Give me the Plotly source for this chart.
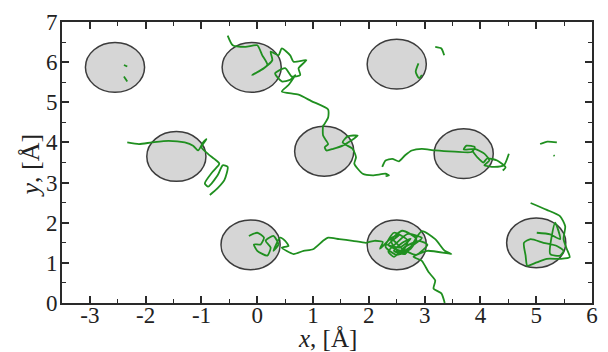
import plotly.graph_objects as go

# Lattice sites (centres of the grey discs), in Å
site_x = [-2.55, -0.10, 2.50, -1.45, 1.20, 3.70, -0.12, 2.50, 5.00]
site_y = [5.87, 5.87, 5.95, 3.65, 3.78, 3.72, 1.45, 1.45, 1.50]
site_rx = 0.53
site_ry = 0.62

# Trajectory pieces (x, y in Å)
top_x = [-0.53, -0.44, -0.21, 0.00, 0.09, 0.18, -0.09, 0.12, 0.27, 0.24, 0.38, 0.44,
         0.59, 0.65, 0.88, 0.74, 0.77, 0.62, 0.50, 0.32, 0.44, 0.59, 0.68, 0.56, 0.44,
         0.74, 0.97, 1.27, 1.27, 1.20, 1.18, 1.18, 1.27, 1.21, 1.24, 1.36, 1.53, 1.80,
         1.62, 1.53, 1.71, 1.77, 1.74, 1.89, 2.07, 2.30, 2.36, 2.30]
top_y = [6.66, 6.42, 6.38, 6.42, 6.17, 5.93, 5.68, 5.85, 6.05, 6.26, 6.17, 6.34,
         6.17, 6.01, 6.05, 5.85, 5.68, 5.64, 5.85, 5.72, 5.52, 5.56, 5.68, 5.43, 5.27,
         5.19, 5.03, 4.82, 4.62, 4.45, 4.41, 4.17, 3.96, 3.88, 3.80, 3.84, 3.92, 4.17,
         4.15, 4.00, 3.84, 3.63, 3.47, 3.22, 3.18, 3.22, 3.18, 3.16]

mid_x = [2.24, 2.30, 2.42, 2.54, 2.65, 2.77, 2.95, 3.19, 3.54, 3.84, 3.90, 3.75, 3.70,
         3.90, 4.07, 4.16, 4.07, 4.25, 4.42, 4.51]
mid_y = [3.39, 3.55, 3.59, 3.53, 3.68, 3.80, 3.84, 3.80, 3.77, 3.76, 3.88, 3.92, 3.82,
         3.84, 3.72, 3.55, 3.43, 3.39, 3.43, 3.72]
mid2_x = [3.85, 3.95, 4.05, 4.12, 4.30, 4.45, 4.40]
mid2_y = [3.80, 3.62, 3.50, 3.60, 3.55, 3.38, 3.30]

left_x = [-2.33, -2.12, -1.89, -1.59, -1.30, -1.15, -1.06, -0.97, -0.91, -1.00, -0.88,
          -0.77, -0.68, -0.80, -0.94, -0.88, -0.71, -0.62, -0.53, -0.59, -0.71, -0.85]
left_y = [4.00, 3.96, 4.00, 4.04, 4.00, 3.92, 3.80, 4.00, 4.08, 3.88, 3.71,
          3.59, 3.47, 3.27, 2.98, 2.90, 3.18, 3.43, 3.39, 3.06, 2.86, 2.69]

bot_x = [-0.15, 0.00, 0.12, 0.06, -0.06, 0.00, 0.18, 0.24, 0.15, 0.29, 0.38, 0.29,
         0.41, 0.50, 0.56, 0.44, 0.65, 0.83, 1.00, 1.18, 1.27, 1.47, 1.71, 1.95, 2.10,
         2.25, 2.20, 2.40, 2.55, 2.35, 2.60, 2.70, 2.45, 2.30, 2.50, 2.75, 2.85, 2.60,
         2.40, 2.55, 2.80, 2.95, 2.70, 2.50, 2.35, 2.45, 2.65, 2.90, 3.05, 2.85, 2.60,
         2.40, 2.30, 2.55, 2.75, 2.60, 2.45, 2.65, 2.95, 3.19, 3.36, 3.48, 3.05, 2.80,
         2.95, 3.07, 3.19, 3.16, 3.30, 3.36]
bot_y = [1.67, 1.75, 1.63, 1.46, 1.46, 1.30, 1.18, 1.38, 1.55, 1.67, 1.46, 1.30,
         1.63, 1.55, 1.42, 1.38, 1.22, 1.30, 1.34, 1.55, 1.63, 1.59, 1.55, 1.50, 1.55,
         1.52, 1.35, 1.62, 1.70, 1.45, 1.30, 1.55, 1.75, 1.40, 1.20, 1.35, 1.60, 1.80,
         1.55, 1.25, 1.45, 1.62, 1.72, 1.50, 1.28, 1.15, 1.40, 1.55, 1.45, 1.20, 1.35,
         1.60, 1.48, 1.38, 1.60, 1.50, 1.30, 1.22, 1.79, 1.59, 1.30, 1.22, 1.30, 1.15,
         1.05, 0.77, 0.56, 0.36, 0.24, 0.00]

right_x = [4.90, 5.19, 5.43, 5.52, 5.49, 5.55, 5.60, 5.43, 5.19, 5.01, 4.84, 4.81, 4.78,
           4.90, 5.13, 5.37, 5.49, 5.43, 5.25, 5.34, 5.43, 5.25, 5.01]
right_y = [2.49, 2.32, 2.16, 1.91, 1.59, 1.34, 1.14, 1.10, 1.10, 1.01, 0.93, 1.18, 1.50,
           1.59, 1.50, 1.42, 1.30, 1.18, 1.22, 2.00, 1.59, 1.71, 1.75]

# Short isolated fragments
frag_xs = [[-2.39, -2.33], [-2.39, -2.33], [2.89, 2.84, 2.90, 2.95], [3.19, 3.30, 3.35],
           [5.07, 5.20, 5.37], [5.31, 5.33]]
frag_ys = [[5.93, 5.89], [5.64, 5.52], [5.97, 5.76, 5.60, 5.68], [6.38, 6.34, 6.17],
           [3.96, 4.02, 4.00], [3.68, 3.66]]

x_ticks = [-3, -2, -1, 0, 1, 2, 3, 4, 5, 6]
y_ticks = [0, 1, 2, 3, 4, 5, 6, 7]

serif = "Liberation Serif"
green = "#1f8f1f"
fig = go.Figure()

paths = [(top_x, top_y), (mid_x, mid_y), (mid2_x, mid2_y), (left_x, left_y),
         (bot_x, bot_y), (right_x, right_y)] + list(zip(frag_xs, frag_ys))
for px, py in paths:
    fig.add_trace(go.Scatter(x=px, y=py, mode="lines", showlegend=False,
                             line=dict(color=green, width=1.8, shape="spline",
                                       smoothing=0.6), hoverinfo="skip"))

for cx, cy in zip(site_x, site_y):
    fig.add_shape(type="circle", xref="x", yref="y", layer="below",
                  x0=cx - site_rx, x1=cx + site_rx, y0=cy - site_ry, y1=cy + site_ry,
                  fillcolor="#d6d6d6", line=dict(color="#3c3c3c", width=1.5))

tick_font = dict(family=serif, size=23, color="#222")
axis_common = dict(showgrid=False, zeroline=False, showline=True, mirror="ticks",
                   linecolor="#2a2a2a", linewidth=2, ticks="inside", ticklen=7,
                   tickwidth=1.6, tickcolor="#2a2a2a",
                   minor=dict(ticks="inside", ticklen=4, tickwidth=1.3,
                              tickcolor="#2a2a2a", dtick=0.5, showgrid=False))

fig.update_xaxes(range=[-3.5, 6], tickvals=x_ticks, ticktext=[str(v) for v in x_ticks],
                 tickfont=tick_font, ticklabelstandoff=-10, **axis_common)
fig.update_yaxes(range=[0, 7], tickvals=y_ticks, ticktext=[str(v) for v in y_ticks],
                 tickfont=tick_font, ticklabelstandoff=-2, **axis_common)

fig.add_annotation(text="<i>x</i>, [Å]", xref="paper", yref="paper", x=0.5, y=-0.128,
                   showarrow=False, yanchor="middle",
                   font=dict(family=serif, size=25, color="#222"))
fig.add_annotation(text="<i>y</i>, [Å]", xref="paper", yref="paper", x=-0.06, y=0.49,
                   showarrow=False, textangle=-90, xanchor="center", yanchor="middle",
                   font=dict(family=serif, size=26, color="#222"))

fig.update_layout(width=608, height=352, margin=dict(l=62, r=10, t=18, b=49),
                  paper_bgcolor="white", plot_bgcolor="white")

fig.write_html("out.html")
